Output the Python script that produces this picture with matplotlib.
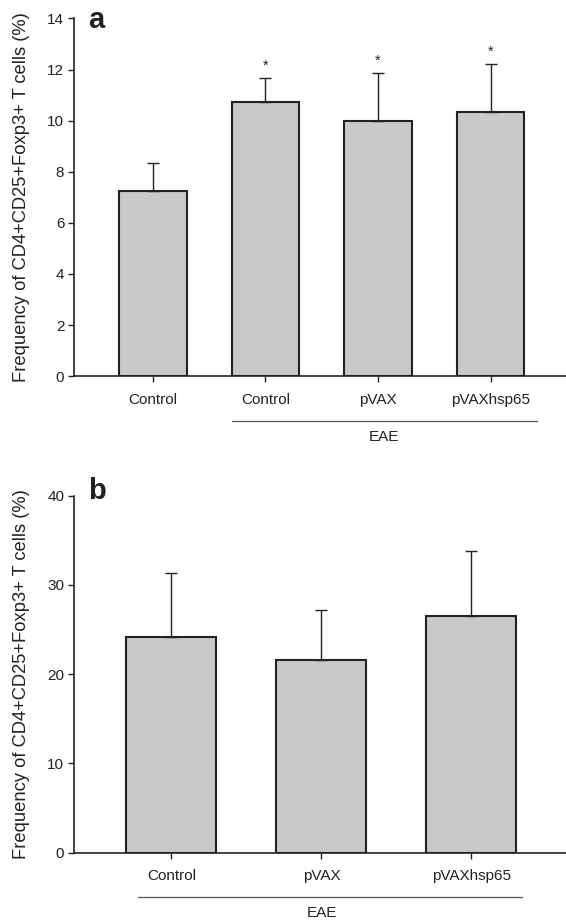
import matplotlib
matplotlib.use("Agg")
import matplotlib.pyplot as plt

# panel a: Control + three EAE groups
labels_a = ['Control', 'Control', 'pVAX', 'pVAXhsp65']
means_a = [7.26, 10.72, 10.0, 10.35]
sd_a = [1.08, 0.94, 1.87, 1.87]
star_a = [False, True, True, True]

# panel b: three EAE groups
labels_b = ['Control', 'pVAX', 'pVAXhsp65']
means_b = [24.15, 21.6, 26.5]
sd_b = [7.15, 5.6, 7.3]

plt.rcParams['font.family'] = ['Liberation Sans', 'DejaVu Sans']
dark = '#222222'
bar_col = '#c8c9cb'
ylab = 'Frequency of CD4+CD25+Foxp3+ T cells (%)'
fs = 11

fig = plt.figure(figsize=(5.66, 9.22), dpi=100)


def style(ax, labels, ymax, step):
    x = range(len(labels))
    for s in ['top', 'right']:
        ax.spines[s].set_visible(False)
    for s in ['left', 'bottom']:
        ax.spines[s].set_color(dark)
        ax.spines[s].set_linewidth(1.2)
    ax.set_ylim(0, ymax)
    ax.set_yticks(range(0, ymax + 1, step))
    ax.set_xticks(list(x))
    ax.set_xticklabels(labels)
    ax.tick_params(axis='y', length=4, width=1, colors=dark, labelsize=fs, pad=3)
    ax.tick_params(axis='x', length=4, width=1, colors=dark, labelsize=fs, pad=8)
    ax.set_ylabel(ylab, fontsize=13.2, color=dark)
    ax.yaxis.set_label_coords(-0.09, 0.5)


# ---- panel a
ax1 = fig.add_axes([0.1307, 0.592, 0.8693, 0.388])
x = range(len(labels_a))
ax1.bar(x, means_a, width=0.6, color=bar_col, edgecolor=dark, linewidth=1.5, zorder=2)
ax1.errorbar(x, means_a, yerr=[[0] * len(sd_a), sd_a], fmt='none', ecolor=dark,
             elinewidth=1, capsize=4.5, capthick=1, zorder=3)
for i, (m, s, st) in enumerate(zip(means_a, sd_a, star_a)):
    if st:
        ax1.text(i, m + s + 0.2, '*', ha='center', va='bottom', fontsize=10.5, color=dark)
ax1.set_xlim(-0.7, 3.67)
style(ax1, labels_a, 14, 2)
tr = ax1.get_xaxis_transform()
ax1.plot([0.7, 3.41], [-0.126, -0.126], color='#555555', lw=0.9, transform=tr, clip_on=False)
ax1.text(2.05, -0.171, 'EAE', ha='center', va='center', fontsize=fs, color=dark, transform=tr)
fig.text(0.155, 1 - 20 / 922, 'a', fontsize=21, fontweight='bold', ha='left', va='center', color=dark)

# ---- panel b
ax2 = fig.add_axes([0.1307, 0.0752, 0.8693, 0.3872])
x = range(len(labels_b))
ax2.bar(x, means_b, width=0.6, color=bar_col, edgecolor=dark, linewidth=1.5, zorder=2)
ax2.errorbar(x, means_b, yerr=[[0] * len(sd_b), sd_b], fmt='none', ecolor=dark,
             elinewidth=1, capsize=4.5, capthick=1, zorder=3)
ax2.set_xlim(-0.65, 2.63)
style(ax2, labels_b, 40, 10)
tr = ax2.get_xaxis_transform()
ax2.plot([-0.22, 2.34], [-0.123, -0.123], color='#555555', lw=0.9, transform=tr, clip_on=False)
ax2.text(1.0, -0.168, 'EAE', ha='center', va='center', fontsize=fs, color=dark, transform=tr)
fig.text(0.155, 1 - 491 / 922, 'b', fontsize=21, fontweight='bold', ha='left', va='center', color=dark)

fig.savefig('out.png', dpi=100)
